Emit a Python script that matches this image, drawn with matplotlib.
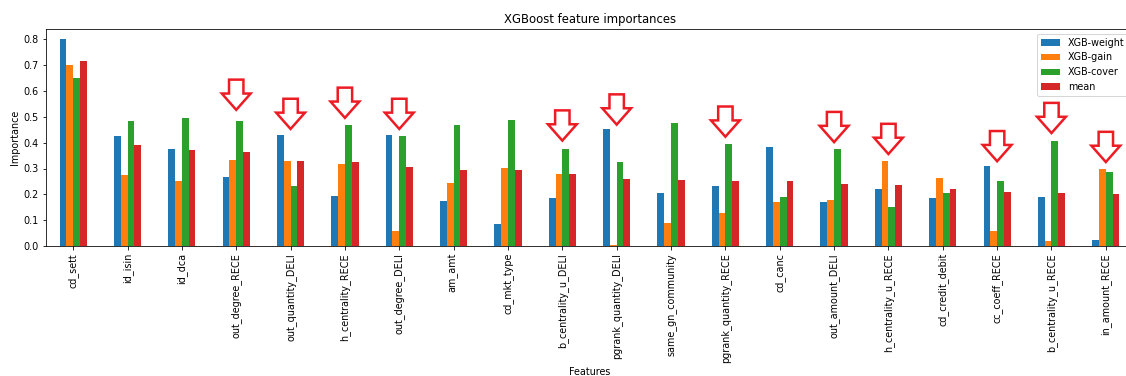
import matplotlib
matplotlib.use("Agg")
import matplotlib.pyplot as plt
from matplotlib.patches import Polygon
import pandas as pd

features = [
    "cd_sett", "id_isin", "id_dca", "out_degree_RECE", "out_quantity_DELI",
    "h_centrality_RECE", "out_degree_DELI", "am_amt", "cd_mkt_type",
    "b_centrality_u_DELI", "pgrank_quantity_DELI", "same_gn_community",
    "pgrank_quantity_RECE", "cd_canc", "out_amount_DELI", "h_centrality_u_RECE",
    "cd_credit_debit", "cc_coeff_RECE", "b_centrality_u_RECE", "in_amount_RECE",
]
xgb_weight = [0.800, 0.426, 0.377, 0.267, 0.431, 0.195, 0.428, 0.175, 0.084, 0.184,
              0.452, 0.205, 0.234, 0.382, 0.172, 0.221, 0.185, 0.309, 0.189, 0.022]
xgb_gain = [0.700, 0.273, 0.251, 0.333, 0.328, 0.318, 0.060, 0.242, 0.302, 0.278,
            0.003, 0.088, 0.126, 0.170, 0.179, 0.329, 0.263, 0.058, 0.019, 0.298]
xgb_cover = [0.651, 0.483, 0.496, 0.485, 0.232, 0.467, 0.425, 0.469, 0.488, 0.375,
             0.325, 0.478, 0.394, 0.189, 0.374, 0.151, 0.207, 0.251, 0.406, 0.287]
mean_imp = [0.717, 0.392, 0.373, 0.362, 0.330, 0.327, 0.305, 0.294, 0.293, 0.277,
            0.259, 0.256, 0.251, 0.250, 0.241, 0.236, 0.219, 0.208, 0.205, 0.202]

# features highlighted with an arrow, and the height the arrow points down to
highlighted = ["out_degree_RECE", "out_quantity_DELI", "h_centrality_RECE",
               "out_degree_DELI", "b_centrality_u_DELI", "pgrank_quantity_DELI",
               "pgrank_quantity_RECE", "out_amount_DELI", "h_centrality_u_RECE",
               "cc_coeff_RECE", "b_centrality_u_RECE", "in_amount_RECE"]
arrow_tips = [0.527, 0.453, 0.496, 0.453, 0.408, 0.470,
              0.423, 0.402, 0.356, 0.328, 0.437, 0.325]

df = pd.DataFrame({
    "XGB-weight": xgb_weight,
    "XGB-gain": xgb_gain,
    "XGB-cover": xgb_cover,
    "mean": mean_imp,
}, index=features)

plt.rcParams.update({
    "font.size": 9.6,
    "axes.titlesize": 11.6,
    "axes.labelsize": 9.6,
    "xtick.labelsize": 9.6,
    "ytick.labelsize": 9.6,
    "legend.fontsize": 9.6,
})

fig = plt.figure(figsize=(1126 / 72, 376 / 72), dpi=72)
ax = fig.add_axes([46 / 1126, 1 - 246 / 376, 1087 / 1126, 217 / 376])
df.plot(kind="bar", ax=ax)

ax.set_title("XGBoost feature importances")
ax.set_xlabel("Features")
ax.set_ylabel("Importance")
ax.legend(loc="upper right")


def down_arrow(ax, cx, tip, width=0.53, height=0.117):
    hw = width / 2
    sw = width / 4
    head = height * 0.54
    pts = [
        (cx, tip),
        (cx - hw, tip + head),
        (cx - sw, tip + head),
        (cx - sw, tip + height),
        (cx + sw, tip + height),
        (cx + sw, tip + head),
        (cx + hw, tip + head),
    ]
    ax.add_patch(Polygon(pts, closed=True, fill=False, edgecolor="#ed1c24",
                         linewidth=2.5, joinstyle="miter", zorder=5))


for name, tip in zip(highlighted, arrow_tips):
    down_arrow(ax, features.index(name), tip)

fig.savefig("out.png", dpi=72)
